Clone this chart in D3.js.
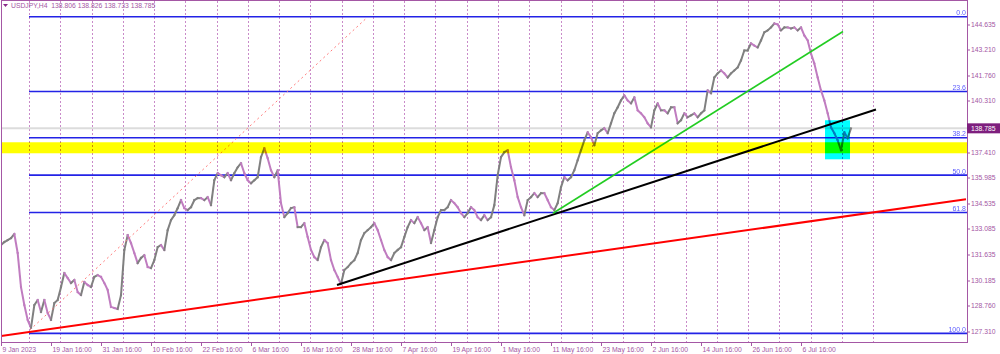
<!DOCTYPE html>
<html>
<head>
<meta charset="utf-8">
<script src="https://cdn.jsdelivr.net/npm/d3@7"></script>
<style>
html, body { margin: 0; padding: 0; background: #fff; }
svg { display: block; font-family: "Liberation Sans", Arial, sans-serif; }
.blend { mix-blend-mode: multiply; }
</style>
</head>
<body>
<svg id="chart" width="1000" height="354"></svg>
<script>
// USDJPY H4 closes, one every few bars
var closes = [
	132.21, 132.38, 132.49, 132.60, 132.83, 131.76, 129.84, 128.83, 127.99, 127.54,
	128.83, 129.11, 128.44, 129.11, 128.38, 127.99, 128.94, 129.11, 129.84, 130.63,
	130.35, 130.07, 130.24, 129.56, 129.39, 130.13, 129.96, 129.84, 130.41, 130.52,
	130.41, 130.07, 129.68, 128.72, 128.66, 128.61, 129.39, 131.93, 132.77, 132.32,
	131.76, 131.19, 131.48, 131.64, 130.97, 130.91, 131.36, 132.09, 132.21, 131.93,
	133.05, 133.61, 133.89, 134.29, 134.74, 134.29, 134.18, 134.34, 134.74, 134.85,
	134.85, 134.74, 134.91, 134.46, 135.86, 136.26, 136.14, 136.03, 136.26, 135.86,
	136.26, 136.59, 136.82, 136.26, 135.86, 135.69, 135.86, 136.03, 137.16, 137.66,
	137.10, 136.42, 136.03, 136.42, 134.57, 133.78, 134.01, 134.29, 134.34, 133.22,
	133.22, 133.44, 132.66, 131.93, 131.53, 131.36, 132.09, 132.49, 132.32, 131.36,
	130.80, 130.41, 130.01, 130.80, 130.97, 131.19, 131.36, 131.76, 132.49, 132.88,
	133.05, 133.22, 133.44, 133.05, 132.49, 131.93, 131.53, 131.36, 131.76, 131.93,
	132.09, 132.66, 133.22, 133.61, 133.44, 133.78, 133.44, 133.05, 133.22, 132.32,
	133.05, 133.78, 134.18, 134.18, 134.34, 134.74, 134.57, 134.34, 134.01, 133.78,
	134.01, 134.34, 134.18, 133.78, 133.61, 133.89, 133.61, 133.78, 134.46, 136.14,
	137.16, 137.44, 137.55, 136.59, 135.86, 134.91, 134.34, 133.89, 134.74, 134.91,
	135.13, 134.91, 135.13, 135.13, 134.74, 134.34, 134.18, 134.57, 135.47, 136.03,
	135.86, 136.03, 136.42, 136.99, 137.55, 138.11, 138.56, 138.28, 137.83, 138.51,
	138.67, 138.79, 138.51, 139.07, 139.63, 139.97, 140.36, 140.64, 140.36, 140.19,
	140.53, 139.80, 139.63, 139.41, 139.07, 138.84, 139.80, 140.19, 139.80, 139.80,
	139.63, 139.97, 139.97, 139.07, 139.24, 139.63, 139.41, 139.52, 139.63, 139.41,
	139.63, 139.80, 140.92, 140.76, 141.65, 141.88, 142.05, 141.88, 141.65, 141.88,
	142.05, 142.22, 142.61, 143.17, 143.17, 143.57, 143.45, 143.34, 143.74, 144.19,
	144.30, 144.47, 144.69, 144.64, 144.30, 144.47, 144.47, 144.41, 144.47, 144.30,
	144.47, 144.02, 143.74, 143.00, 142.44, 141.65, 140.92, 140.36, 139.63, 138.84,
	138.51, 138.11, 137.55, 138.56, 138.22, 138.785
];

var timeLabels = ["9 Jan 2023", "19 Jan 16:00", "31 Jan 16:00", "10 Feb 16:00", "22 Feb 16:00",
	"6 Mar 16:00", "16 Mar 16:00", "28 Mar 16:00", "7 Apr 16:00", "19 Apr 16:00", "1 May 16:00",
	"11 May 16:00", "23 May 16:00", "2 Jun 16:00", "14 Jun 16:00", "26 Jun 16:00", "6 Jul 16:00"];
var priceTicks = [144.635, 143.210, 141.760, 140.310, 138.860, 137.410, 135.985,
	134.535, 133.085, 131.635, 130.185, 128.760, 127.310];
var fibLevels = [0, 23.6, 38.2, 50, 61.8, 100];
var fibHigh = 145.07, fibLow = 127.23, fibStart = 8.4;
var header = "USDJPY,H4  138.806 138.826 138.733 138.785";
var lastPrice = 138.785;
var zone = [137.38, 138.00];
var box = { from: 247.2, to: 254.7, top: 139.24, bottom: 137.04 };
// trendlines as [index, price] anchor pairs
var redLine = [[0, 127.09], [289.5, 134.79]];
var blackLine = [[100.8, 129.96], [262.5, 139.85]];
var greenLine = [[165.6, 134.00], [252.6, 144.24]];
var dottedLine = [[8.7, 127.43], [109.5, 144.97]];

(function() {
	"use strict";

	var svg = d3.select("#chart"),
		left = 1, right = 967, top = 1, bottom = 342,
		purple = "#a457a4", gridColor = "#c98bc9";

	var x = d3.scaleLinear().domain([0, closes.length - 1]).range([1, 851]),
		y = d3.scaleLinear().domain([127.31, 144.635]).range([332, 24.5]);

	svg.append("defs").append("clipPath").attr("id", "plot")
		.append("rect").attr("x", left).attr("y", top)
			.attr("width", right - left).attr("height", bottom - top);

	var plot = svg.append("g").attr("clip-path", "url(#plot)");

	// weekly grid
	var weeks = d3.range(28).map(function(i) { return fibStart + i * 9.38; });
	plot.selectAll(".vgrid").data(weeks).enter()
		.append("line")
			.attr("class", "vgrid")
			.attr("x1", function(d) { return Math.round(x(d)) + 0.5; })
			.attr("x2", function(d) { return Math.round(x(d)) + 0.5; })
			.attr("y1", top).attr("y2", bottom)
			.attr("stroke", gridColor)
			.attr("stroke-dasharray", "2,2");

	// current price line
	plot.append("line")
		.attr("x1", left).attr("x2", right)
		.attr("y1", y(lastPrice)).attr("y2", y(lastPrice))
		.attr("stroke", "#dcdcdc").attr("stroke-width", 2);

	// fibonacci levels
	var fib = plot.selectAll(".fib").data(fibLevels).enter()
		.append("g").attr("class", "fib");
	fib.append("line")
		.attr("x1", x(fibStart)).attr("x2", right)
		.attr("y1", function(d) { return y(fibHigh - (fibHigh - fibLow) * d / 100); })
		.attr("y2", function(d) { return y(fibHigh - (fibHigh - fibLow) * d / 100); })
		.attr("stroke", "#2323e6").attr("stroke-width", 1.6);
	fib.append("text")
		.attr("x", right - 1)
		.attr("y", function(d) { return y(fibHigh - (fibHigh - fibLow) * d / 100) - 1.5; })
		.attr("text-anchor", "end")
		.attr("font-size", "7px")
		.attr("fill", "#5c5cff")
		.text(function(d) { return d.toFixed(1); });

	// price, segment colour by direction
	var segs = d3.pairs(closes.map(function(c, i) { return [i, c]; }));
	plot.selectAll(".seg").data(segs).enter()
		.append("line")
			.attr("class", "seg")
			.attr("x1", function(d) { return x(d[0][0]); })
			.attr("y1", function(d) { return y(d[0][1]); })
			.attr("x2", function(d) { return x(d[1][0]); })
			.attr("y2", function(d) { return y(d[1][1]); })
			.attr("stroke", function(d) { return d[1][1] >= d[0][1] ? "#808080" : "#c07cc0"; })
			.attr("stroke-width", 2)
			.attr("stroke-linecap", "square");

	function trend(pts, color, width, dash) {
		var l = plot.append("line")
			.attr("x1", x(pts[0][0])).attr("y1", y(pts[0][1]))
			.attr("x2", x(pts[1][0])).attr("y2", y(pts[1][1]))
			.attr("stroke", color).attr("stroke-width", width);
		if (dash) l.attr("stroke-dasharray", dash);
	}
	trend(dottedLine, "#ff7b7b", 1, "2,3");
	trend(redLine, "#ff0000", 2);
	trend(blackLine, "#000000", 2);
	trend(greenLine, "#22cc22", 1.6);

	// support zone and consolidation box, multiplied like the terminal does
	plot.append("rect").attr("class", "blend")
		.attr("x", left).attr("width", right - left)
		.attr("y", y(zone[1])).attr("height", y(zone[0]) - y(zone[1]))
		.attr("fill", "#ffff00");
	plot.append("rect").attr("class", "blend")
		.attr("x", x(box.from)).attr("width", x(box.to) - x(box.from))
		.attr("y", y(box.top)).attr("height", y(box.bottom) - y(box.top))
		.attr("fill", "#00ffff");

	// frame
	svg.append("rect")
		.attr("x", left + 0.5).attr("y", top - 0.5)
		.attr("width", right - left).attr("height", bottom - top + 1)
		.attr("fill", "none").attr("stroke", purple);

	// price axis
	var pt = svg.selectAll(".ptick").data(priceTicks).enter()
		.append("g").attr("class", "ptick")
		.attr("transform", function(d) { return "translate(" + right + "," + Math.round(y(d)) + ")"; });
	pt.append("line").attr("x1", 0).attr("x2", 3).attr("stroke", purple);
	pt.append("text")
		.attr("x", 4).attr("dy", "0.35em")
		.attr("font-size", "6.8px")
		.attr("fill", purple)
		.text(function(d) { return d.toFixed(3); });

	var cur = svg.append("g").attr("transform", "translate(" + right + "," + y(lastPrice) + ")");
	cur.append("rect").attr("x", 0).attr("y", -5).attr("width", 33).attr("height", 10).attr("fill", "#7e1f7e");
	cur.append("text").attr("x", 4).attr("dy", "0.35em")
		.attr("font-size", "6.8px").attr("fill", "#fff").text(lastPrice.toFixed(3));

	// time axis
	var tt = svg.selectAll(".ttick").data(timeLabels).enter()
		.append("g").attr("class", "ttick")
		.attr("transform", function(d, i) { return "translate(" + (Math.round(x(i * 15)) + 0.5) + "," + bottom + ")"; });
	tt.append("line").attr("y1", 0).attr("y2", 4).attr("stroke", purple);
	tt.append("text")
		.attr("x", 1).attr("y", 10)
		.attr("font-size", "6.8px")
		.attr("fill", purple)
		.text(function(d) { return d; });

	// header
	svg.append("path").attr("d", "M3,4 L8,4 L5.5,7 Z").attr("fill", "#8a2a8a");
	svg.append("text")
		.attr("x", 11).attr("y", 8)
		.attr("font-size", "6.8px")
		.attr("fill", purple)
		.attr("xml:space", "preserve")
		.text(header);
})();
</script>
</body>
</html>
